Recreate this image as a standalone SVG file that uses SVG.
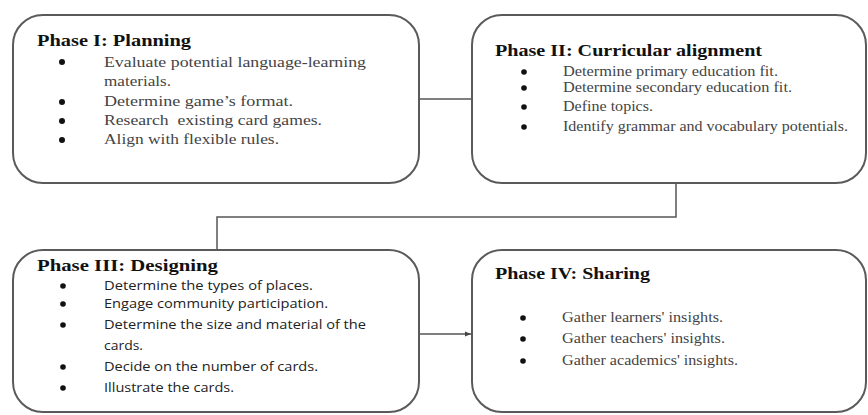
<svg xmlns="http://www.w3.org/2000/svg" width="868" height="415" viewBox="0 0 868 415">
<defs>
<style>
.box{fill:#fff;stroke:#5a5a5a;stroke-width:2}
.title{font-family:"Liberation Serif",serif;font-weight:bold;font-size:16.5px;fill:#111}
.ser{font-family:"Liberation Serif",serif;font-size:14px;fill:#444}
.sans{font-family:"Open Sans","Liberation Sans",sans-serif;font-size:13px;fill:#222}
.bul{fill:#111}
.conn{fill:none;stroke:#555;stroke-width:1.5}
</style>
<marker id="arr" viewBox="0 0 10 10" refX="10" refY="5" markerWidth="6" markerHeight="6" orient="auto" markerUnits="userSpaceOnUse">
<path d="M0,1 L10,5 L0,9 z" fill="#444"/>
</marker>
</defs>
<rect width="868" height="415" fill="#fff"/>
<g id="connectors">
<line class="conn" x1="420" y1="99" x2="471" y2="99"/>
<polyline class="conn" points="676,184 676,217 217,217 217,249"/>
<line class="conn" x1="420" y1="334" x2="471" y2="334" marker-end="url(#arr)"/>
</g>
<g id="phase1">
<rect class="box" x="13" y="15" width="406" height="168" rx="30" ry="30"/>
<text class="title" x="37" y="46" textLength="154" lengthAdjust="spacingAndGlyphs">Phase I: Planning</text>
<circle class="bul" cx="62" cy="62" r="3"/>
<circle class="bul" cx="62" cy="102" r="3"/>
<circle class="bul" cx="62" cy="121" r="3"/>
<circle class="bul" cx="62" cy="140" r="3"/>
<text class="ser" x="104" y="67" textLength="262" lengthAdjust="spacingAndGlyphs">Evaluate potential language-learning</text>
<text class="ser" x="104" y="86" textLength="67" lengthAdjust="spacingAndGlyphs">materials.</text>
<text class="ser" x="104" y="106" textLength="189" lengthAdjust="spacingAndGlyphs">Determine game’s format.</text>
<text class="ser" x="104" y="125" textLength="218" lengthAdjust="spacingAndGlyphs" xml:space="preserve">Research  existing card games.</text>
<text class="ser" x="104" y="144" textLength="175" lengthAdjust="spacingAndGlyphs">Align with flexible rules.</text>
</g>
<g id="phase2">
<rect class="box" x="472" y="15" width="394" height="168" rx="30" ry="30"/>
<text class="title" x="495" y="56" textLength="267" lengthAdjust="spacingAndGlyphs">Phase II: Curricular alignment</text>
<circle class="bul" cx="524" cy="72" r="2.8"/>
<circle class="bul" cx="524" cy="88" r="2.8"/>
<circle class="bul" cx="524" cy="107" r="2.8"/>
<circle class="bul" cx="524" cy="127" r="2.8"/>
<text class="ser" x="563" y="76" textLength="215" lengthAdjust="spacingAndGlyphs">Determine primary education fit.</text>
<text class="ser" x="563" y="92" textLength="229" lengthAdjust="spacingAndGlyphs">Determine secondary education fit.</text>
<text class="ser" x="563" y="111" textLength="90" lengthAdjust="spacingAndGlyphs">Define topics.</text>
<text class="ser" x="563" y="131" textLength="285" lengthAdjust="spacingAndGlyphs">Identify grammar and vocabulary potentials.</text>
</g>
<g id="phase3">
<rect class="box" x="13" y="250" width="406" height="162" rx="30" ry="30"/>
<text class="title" x="37" y="271" textLength="181" lengthAdjust="spacingAndGlyphs">Phase III: Designing</text>
<circle class="bul" cx="63" cy="286" r="2.8"/>
<circle class="bul" cx="63" cy="304" r="2.8"/>
<circle class="bul" cx="63" cy="325" r="2.8"/>
<circle class="bul" cx="63" cy="367" r="2.8"/>
<circle class="bul" cx="63" cy="388" r="2.8"/>
<text class="sans" x="104" y="290" textLength="209" lengthAdjust="spacingAndGlyphs">Determine the types of places.</text>
<text class="sans" x="104" y="308" textLength="224" lengthAdjust="spacingAndGlyphs">Engage community participation.</text>
<text class="sans" x="104" y="329" textLength="262" lengthAdjust="spacingAndGlyphs">Determine the size and material of the</text>
<text class="sans" x="104" y="350" textLength="39" lengthAdjust="spacingAndGlyphs">cards.</text>
<text class="sans" x="104" y="371" textLength="214" lengthAdjust="spacingAndGlyphs">Decide on the number of cards.</text>
<text class="sans" x="104" y="392" textLength="130" lengthAdjust="spacingAndGlyphs">Illustrate the cards.</text>
</g>
<g id="phase4">
<rect class="box" x="472" y="250" width="394" height="162" rx="30" ry="30"/>
<text class="title" x="495" y="279" textLength="155" lengthAdjust="spacingAndGlyphs">Phase IV: Sharing</text>
<circle class="bul" cx="523" cy="318" r="2.8"/>
<circle class="bul" cx="523" cy="339" r="2.8"/>
<circle class="bul" cx="523" cy="361" r="2.8"/>
<text class="ser" x="562" y="322" textLength="161" lengthAdjust="spacingAndGlyphs">Gather learners' insights.</text>
<text class="ser" x="562" y="343" textLength="163" lengthAdjust="spacingAndGlyphs">Gather teachers' insights.</text>
<text class="ser" x="562" y="365" textLength="176" lengthAdjust="spacingAndGlyphs">Gather academics' insights.</text>
</g>
</svg>
